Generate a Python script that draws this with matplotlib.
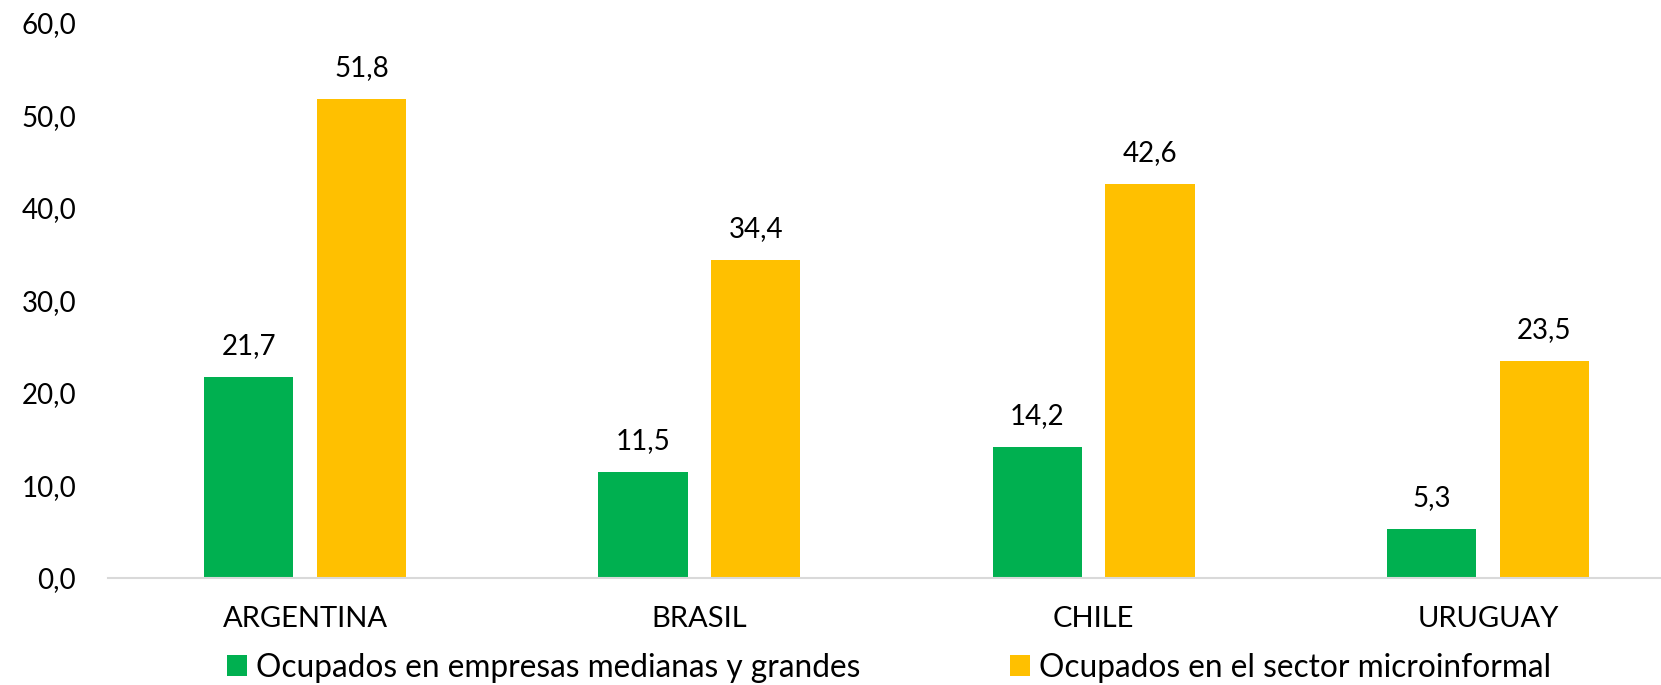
import numpy as np
import matplotlib
matplotlib.use("Agg")
import matplotlib.pyplot as plt

# datos
paises = ["ARGENTINA", "BRASIL", "CHILE", "URUGUAY"]
medianas_grandes = [21.7, 11.5, 14.2, 5.3]
microinformal = [51.8, 34.4, 42.6, 23.5]
serie_labels = ["Ocupados en empresas medianas y grandes",
                "Ocupados en el sector microinformal"]
yticks = [0, 10, 20, 30, 40, 50, 60]

plt.rcParams['font.family'] = ['Lato', 'DejaVu Sans']

W, H = 1661, 685
fig = plt.figure(figsize=(W / 100, H / 100), dpi=100)
# el área del gráfico se extiende más allá del borde derecho (imagen recortada)
ax = fig.add_axes([108 / W, 1 - 578 / H, (1685 - 108) / W, (578 - 23) / H])

x = np.arange(len(paises))
ancho = 0.226
off = 0.143
b1 = ax.bar(x - off, medianas_grandes, ancho, color="#00B050", label=serie_labels[0])
b2 = ax.bar(x + off, microinformal, ancho, color="#FFC000", label=serie_labels[1])

def fmt(v):
    return f"{v:.1f}".replace(".", ",")

for barras, vals in [(b1, medianas_grandes), (b2, microinformal)]:
    for b, v in zip(barras, vals):
        ax.annotate(fmt(v), (b.get_x() + b.get_width() / 2, v),
                    xytext=(0, 13), textcoords="offset points",
                    ha="center", va="bottom", fontsize=20, color="#000000")

ax.set_xlim(-0.5, len(paises) - 0.5)
ax.set_ylim(0, 60)
ax.set_yticks(yticks)
ax.set_yticklabels([fmt(v) for v in yticks], fontsize=20)
ax.set_xticks(x)
ax.set_xticklabels(paises, fontsize=21)
ax.tick_params(axis="y", length=0, pad=23)
ax.tick_params(axis="x", length=0, pad=20)

for s in ["top", "right", "left"]:
    ax.spines[s].set_visible(False)
ax.spines["bottom"].set_color("#D9D9D9")
ax.spines["bottom"].set_linewidth(1.5)

leg = fig.legend(handles=[b1, b2], labels=serie_labels, loc="center",
                 bbox_to_anchor=(889 / W, 1 - 668 / H), ncol=2, frameon=False,
                 fontsize=22.8, handlelength=0.63, handleheight=0.63,
                 handletextpad=0.27, columnspacing=4.75)

fig.savefig("out.png", dpi=100)
